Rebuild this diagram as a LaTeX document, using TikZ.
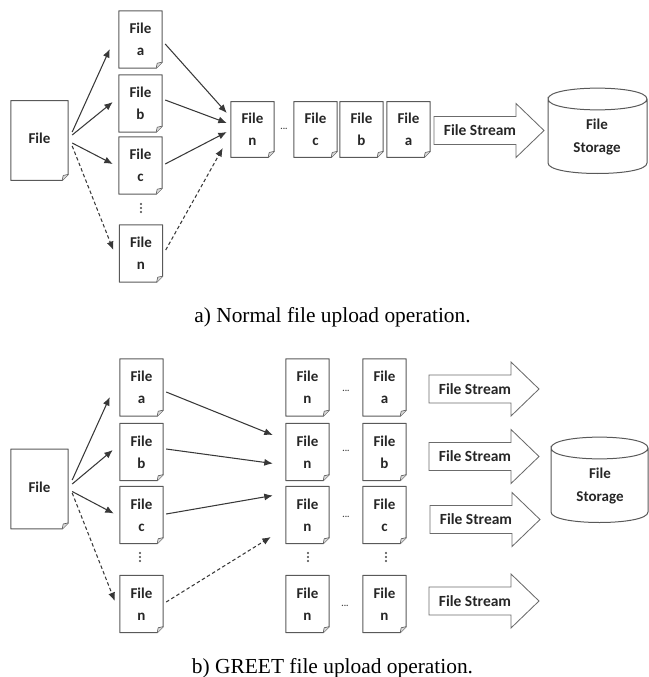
\documentclass[tikz,border=0pt]{standalone}
\usepackage{fontspec}
\setmainfont{Liberation Serif}
\newfontfamily\labelfont{Carlito}[BoldFont={Carlito Bold}]
\usetikzlibrary{arrows.meta}
\tikzset{
  x=1pt,y=-1pt,
  docline/.style={draw=black!65,line width=1pt,line join=round},
  docbase/.style={inner sep=0pt,align=center,text=black!85,
    execute at begin node={\rule{0pt}{12.5pt}},
    font=\labelfont\bfseries\fontsize{15}{22}\selectfont,
    append after command={\pgfextra{
      \draw[docline] (\tikzlastnode.north west)--(\tikzlastnode.north east)
        --([yshift=6pt]\tikzlastnode.south east)--([xshift=-6pt]\tikzlastnode.south east)
        --(\tikzlastnode.south west)--cycle;
      \draw[docline,fill=black!15,line width=0.6pt] ([xshift=-6pt]\tikzlastnode.south east)
        --([xshift=-5pt,yshift=5pt]\tikzlastnode.south east)--([yshift=6pt]\tikzlastnode.south east);
    }}},
  smalldoc/.style={docbase,minimum width=43pt,minimum height=57pt},
  rowdoc/.style={docbase,minimum width=43pt,minimum height=55.5pt},
  bigdoc/.style={docbase,minimum width=57pt,minimum height=79.5pt},
  conn/.style={draw=black!78,line width=1.05pt,-{Latex[length=8.5pt,width=7pt]}},
  dashconn/.style={conn,dash pattern=on 3.5pt off 2.5pt},
  dotsh/.style={inner sep=0pt,text=black!75,font=\labelfont\bfseries\fontsize{9}{9}\selectfont},
  dotsv/.style={inner sep=0pt,rotate=90,text=black!60,font=\labelfont\bfseries\fontsize{15}{15}\selectfont},
  streamtext/.style={inner sep=0pt,text=black!85,font=\labelfont\bfseries\fontsize{15.5}{18}\selectfont},
  storetext/.style={inner sep=0pt,text=black!85,font=\labelfont\bfseries\fontsize{15}{18}\selectfont},
  stream/.style={draw=black!58,line width=0.85pt,line join=miter},
  store/.style={draw=black!65,line width=1pt},
  caption/.style={inner sep=0pt,anchor=base,text=black,font=\fontsize{21.4}{24}\selectfont},
}
\newcommand{\streamarrow}[3]{% name, left x, middle y
  \draw[stream] (#2,#3-14)--(#2+82,#3-14)--(#2+82,#3-27)--(#2+110,#3)
    --(#2+82,#3+27)--(#2+82,#3+14)--(#2,#3+14)--cycle;
  \node[streamtext] (#1) at (#2+46,#3) {File Stream};
}
\newcommand{\storedrum}[4]{% name, left x, top y, width
  \draw[store] (#2,#3+11) .. controls (#2,#3-3.5) and (#2+#4,#3-3.5) .. (#2+#4,#3+11)
    .. controls (#2+#4,#3+25.5) and (#2,#3+25.5) .. (#2,#3+11)
    -- (#2,#3+75) .. controls (#2,#3+89) and (#2+#4,#3+89) .. (#2+#4,#3+75) -- (#2+#4,#3+11);
  \node[storetext] (#1a) at (#2+49,#3+36) {File};
  \node[storetext] (#1b) at (#2+49,#3+61) {Storage};
}
\begin{document}
\begin{tikzpicture}
\useasboundingbox (0,0) rectangle (648,677);
% ---------- a) normal
\node[bigdoc] (f) at (39.5,140.5) {\raisebox{3pt}{\smash{File}}};
\node[smalldoc] (a) at (140.5,39.5) {File\\a};
\node[smalldoc] (b) at (140.5,103.5) {File\\b};
\node[smalldoc] (c) at (140.5,165.5) {File\\c};
\node[smalldoc] (n) at (141,253.5) {File\\n};
\node[dotsv] (vd) at (141,208.5) {...};
\node[rowdoc] (rn) at (252.5,129.5) {File\\n};
\node[dotsh] (hd) at (284,129) {...};
\node[rowdoc] (rc) at (315.5,129.5) {File\\c};
\node[rowdoc] (rb) at (361.5,129.5) {File\\b};
\node[rowdoc] (ra) at (408.5,129.5) {File\\a};
\draw[conn] ([shift={(4,-8.5)}]f.east)--([shift={(-9,9.5)}]a.west);
\draw[conn] ([shift={(4,-5.5)}]f.east)--([shift={(-6,-1.5)}]b.west);
\draw[conn] ([shift={(4,2.5)}]f.east)--([shift={(-6,-1.5)}]c.west);
\draw[dashconn] ([shift={(4,5.5)}]f.east)--([shift={(-6,-3.5)}]n.west);
\draw[conn] ([shift={(3,4.5)}]a.east)--([shift={(-4,-16.5)}]rn.west);
\draw[conn] ([shift={(3,-3.5)}]b.east)--([shift={(-4,-6.5)}]rn.west);
\draw[conn] ([shift={(3,-1.5)}]c.east)--([shift={(-4,2.5)}]rn.west);
\draw[dashconn] ([shift={(3,-3.5)}]n.east)--([shift={(-8,18.5)}]rn.west);
\streamarrow{s0}{434}{130.5}
\storedrum{d0}{548}{88}{99}
\node[caption] (cap1) at (332.5,322) {a) Normal file upload operation.};
% ---------- b) GREET
\node[bigdoc] (F) at (39.5,489) {\raisebox{3pt}{\smash{File}}};
\node[smalldoc] (A) at (141.5,387.5) {File\\a};
\node[smalldoc] (B) at (141.5,452) {File\\b};
\node[smalldoc] (C) at (141.5,515) {File\\c};
\node[smalldoc] (N) at (141.5,604) {File\\n};
\node[dotsv] (VD) at (140,557) {...};
\node[smalldoc] (m1) at (307.5,387.5) {File\\n};
\node[smalldoc] (m2) at (307.5,452) {File\\n};
\node[smalldoc] (m3) at (307.5,515) {File\\n};
\node[smalldoc] (m4) at (307.5,604) {File\\n};
\node[dotsv] (VDm) at (308,557) {...};
\node[smalldoc] (e1) at (384.5,387.5) {File\\a};
\node[smalldoc] (e2) at (384.5,452) {File\\b};
\node[smalldoc] (e3) at (384.5,515) {File\\c};
\node[smalldoc] (e4) at (384.5,604) {File\\n};
\node[dotsv] (VDe) at (386,557) {...};
\node[dotsh] (h1) at (346,391) {...};
\node[dotsh] (h2) at (346,450.5) {...};
\node[dotsh] (h3) at (346,516.5) {...};
\node[dotsh] (h4) at (345,605.5) {...};
\draw[conn] ([shift={(4,-9)}]F.east)--([shift={(-10,9.5)}]A.west);
\draw[conn] ([shift={(4,-5)}]F.east)--([shift={(-7,-2)}]B.west);
\draw[conn] ([shift={(4,2.5)}]F.east)--([shift={(-6,-1.5)}]C.west);
\draw[dashconn] ([shift={(4,4)}]F.east)--([shift={(-5,-3)}]N.west);
\draw[conn] ([shift={(3,4.5)}]A.east)--([shift={(-13,-17)}]m2.west);
\draw[conn] ([shift={(3,-3)}]B.east)--([shift={(-13,11.5)}]m2.west);
\draw[conn] ([shift={(3,-1)}]C.east)--([shift={(-13,-19.5)}]m3.west);
\draw[dashconn] ([shift={(3,-2)}]N.east)--([shift={(-15,22)}]m3.west);
\streamarrow{s1}{429}{389}
\streamarrow{s2}{429}{456.5}
\streamarrow{s3}{430}{519.5}
\streamarrow{s4}{429}{601}
\storedrum{d1}{551}{437}{97}
\node[caption] (cap2) at (332.5,673) {b) GREET file upload operation.};
\end{tikzpicture}
\end{document}
